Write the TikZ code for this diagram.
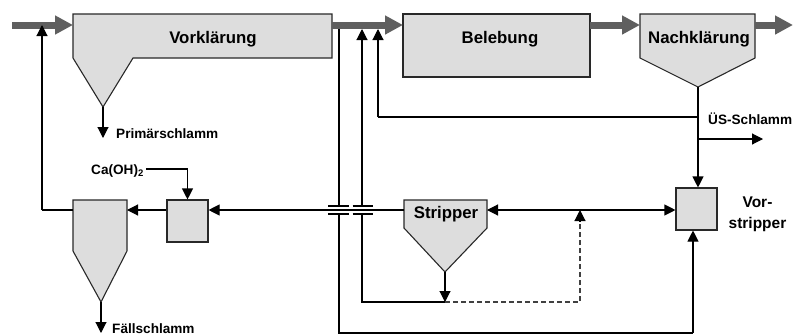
\documentclass[tikz,border=0pt]{standalone}
\usepackage{fontspec}
\setmainfont{Liberation Sans}
\usetikzlibrary{arrows.meta}
\definecolor{tankgray}{RGB}{221,221,221}
\definecolor{flowgray}{RGB}{95,95,95}
\definecolor{edgegray}{RGB}{40,40,40}

\begin{document}
\begin{tikzpicture}[x=1pt,y=-1pt,
  tank/.style={fill=tankgray, draw=edgegray, line width=1.1pt, line join=miter},
  flow/.style={draw=flowgray, line width=7pt, -{Triangle[length=18pt,width=18pt]}},
  pipe/.style={draw=black, line width=1.1pt},
  arr/.style={pipe, -{Triangle[length=11pt,width=11pt]}},
  twoarr/.style={pipe, {Triangle[length=11pt,width=11pt]}-{Triangle[length=11pt,width=11pt]}},
  dashpipe/.style={draw=black!75, line width=1.1pt, dash pattern=on 5pt off 3pt},
  bigtxt/.style={font=\bfseries\fontsize{16.8}{18}\selectfont, inner sep=0pt},
  smalltxt/.style={font=\bfseries\fontsize{13.6}{15}\selectfont, inner sep=0pt},
  vstxt/.style={font=\bfseries\fontsize{15.5}{21}\selectfont, inner sep=0pt, align=center},
  bar/.style={draw=black, line width=1.1pt}]
\useasboundingbox (0,0) rectangle (793,335);

% ---------- tanks ----------
% primary clarifier
\draw[tank] (73,14) -- (332,14) -- (332,58) -- (133,58) -- (103,107) -- (73,58) -- cycle;
\coordinate (vkIn) at (73,25);
\coordinate (vkOut) at (332,25);
\coordinate (vkTip) at (103,107);
\node[bigtxt, anchor=base] (vkLabel) at (213,43) {Vorklärung};

% aeration tank
\node[tank, minimum width=187pt, minimum height=63pt, inner sep=0pt] (beleb) at (496.5,45.5) {};
\node[bigtxt, anchor=base] (belebLabel) at (500,43) {Belebung};
\coordinate (bbIn) at (403,25);
\coordinate (bbOut) at (590,25);

% secondary clarifier
\draw[tank] (640,14) -- (755,14) -- (755,58) -- (698,87) -- (640,58) -- cycle;
\coordinate (nkIn) at (640,25);
\coordinate (nkOut) at (755,25);
\coordinate (nkTip) at (698,87);
\node[bigtxt, anchor=base] (nkLabel) at (699,43) {Nachklärung};

% precipitation clarifier
\draw[tank] (73,200) -- (127,200) -- (127,251) -- (101,302) -- (73,251) -- cycle;
\coordinate (fkLeft) at (73,210);
\coordinate (fkRight) at (127,210);
\coordinate (fkTip) at (101,302);

% mixing box
\node[tank, minimum width=41pt, minimum height=42pt, inner sep=0pt] (mix) at (187.5,221) {};

% stripper
\draw[tank] (404,200) -- (487,200) -- (487,228) -- (445,272) -- (404,228) -- cycle;
\coordinate (stLeft) at (404,210);
\coordinate (stRight) at (487,210);
\coordinate (stTip) at (445,272);
\node[bigtxt, anchor=base] (stLabel) at (446,218) {Stripper};

% pre-stripper
\node[tank, minimum width=41pt, minimum height=42pt, inner sep=0pt] (vs) at (696.5,209) {};
\node[vstxt] (vsLabel) at (757.5,214) {Vor-\\stripper};

% ---------- pipes under the main flow ----------
\coordinate (a1) at (339,25);
\coordinate (a2) at (339,206);
\coordinate (a3) at (339,214);
\coordinate (a4) at (339,333);
\coordinate (a5) at (693,333);
\draw[pipe] (a1) -- (a2);
\draw[pipe] (a3) -- (a4) -- (a5);
\draw[arr] (a5) -- (vs.south -| a5);

% ---------- main flow ----------
\coordinate (inflow) at (12,25);
\coordinate (outflow) at (793,25);
\draw[flow] (inflow) -- (vkIn);
\draw[flow] (vkOut) -- (bbIn);
\draw[flow] (bbOut) -- (nkIn);
\draw[flow] (nkOut) -- (outflow);

% ---------- sludge outputs ----------
\coordinate (psEnd) at (103,138);
\draw[arr] (vkTip) -- (psEnd);
\node[smalltxt, anchor=base west] (psLabel) at (116,138) {Primärschlamm};

\coordinate (fsEnd) at (101,333);
\draw[arr] (fkTip) -- (fsEnd);
\node[smalltxt, anchor=base west] (fsLabel) at (112,333) {Fällschlamm};

% ---------- precipitation loop ----------
\coordinate (r1) at (42,210);
\coordinate (r2) at (42,25);
\draw[pipe] (fkLeft) -- (r1);
\draw[arr] (r1) -- (r2);
\draw[arr] (mix.west |- fkRight) -- (fkRight);
\draw[arr] (stLeft) -- (mix.east |- stLeft);

\node[smalltxt, anchor=base west] (caLabel) at (91,174) {Ca(OH)\textsubscript{2}};
\coordinate (c1) at (146,169);
\coordinate (c2) at (187.5,169);
\draw[pipe] (c1) -- (c2);
\draw[arr] (c2) -- (mix.north);

% ---------- crossings on the return line ----------
\draw[bar] (328,206) -- (349,206);
\draw[bar] (328,214) -- (349,214);
\draw[bar] (352.5,206) -- (373,206);
\draw[bar] (352.5,214) -- (373,214);

% ---------- stripper sludge return ----------
\coordinate (b1) at (445,302);
\coordinate (b2) at (362,302);
\coordinate (b3) at (362,214);
\coordinate (b4) at (362,206);
\coordinate (b5) at (362,29);
\draw[arr] (stTip) -- (b1);
\draw[pipe] (b1) -- (b2) -- (b3);
\draw[arr] (b4) -- (b5);

\coordinate (d1) at (580,302);
\coordinate (d2) at (580,210);
\coordinate (d3) at (580,221);
\draw[dashpipe] (b1) -- (d1) -- (d3);
\draw[arr] (d3) -- (d2);

\draw[twoarr] (stRight) -- (vs.west |- stRight);

% ---------- return sludge ----------
\coordinate (e1) at (698,117);
\coordinate (e2) at (378,117);
\coordinate (e3) at (378,29);
\draw[pipe] (e1) -- (e2);
\draw[arr] (e2) -- (e3);
\draw[arr] (nkTip) -- (vs.north -| nkTip);

\coordinate (us1) at (698,139);
\coordinate (us2) at (763,139);
\draw[arr] (us1) -- (us2);
\node[smalltxt, anchor=base west] (usLabel) at (708,124) {ÜS-Schlamm};
\end{tikzpicture}
\end{document}
